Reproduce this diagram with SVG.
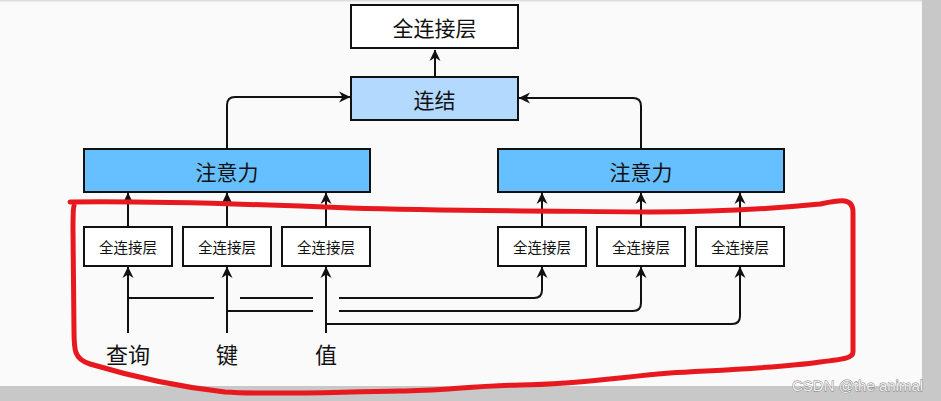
<svg xmlns="http://www.w3.org/2000/svg" width="941" height="401" viewBox="0 0 941 401">
<style>
.box{stroke:#111;stroke-width:2}
.t{font-family:"Noto Sans CJK SC","Noto Sans",sans-serif;fill:#111;text-anchor:middle;dominant-baseline:central}
.big{font-size:21px}
.small{font-size:14.5px}
.lab{font-size:22px}
.c{fill:none;stroke:#111;stroke-width:2}
.a{marker-end:url(#arr)}
</style>
<defs>
<marker id="arr" viewBox="-12 -7 13 14" refX="0" refY="0" markerWidth="13" markerHeight="14" markerUnits="userSpaceOnUse" orient="auto">
<path d="M0.5,0 L-11,-5.5 L-7.5,0 L-11,5.5 Z" fill="#111"/>
</marker>
</defs>
<rect x="0" y="0" width="941" height="401" fill="#fafafa"/>
<rect x="0" y="0" width="941" height="1.5" fill="#dcdcdc"/>
<rect x="922" y="0" width="19" height="401" fill="#c8c8c8"/>
<rect x="0" y="386" width="941" height="15" fill="#c8c8c8"/>

<g id="connectors">
<path class="c a" d="M435,77 V50"/>
<path class="c a" d="M227,149 V105 Q227,97 235,97 H350"/>
<path class="c a" d="M641,149 V106 Q641,98 633,98 H519"/>
<path class="c a" d="M128,227 V193"/>
<path class="c a" d="M227,227 V193"/>
<path class="c a" d="M326,227 V193"/>
<path class="c a" d="M542,227 V193"/>
<path class="c a" d="M641,227 V193"/>
<path class="c a" d="M740,227 V193"/>
<path class="c a" d="M128,333 V267"/>
<path class="c a" d="M227,333 V267"/>
<path class="c a" d="M326,333 V267"/>
<path class="c" d="M128,298 H214 M240,298 H313"/>
<path class="c a" d="M339,298 H534 Q542,298 542,290 V267"/>
<path class="c" d="M227,311 H313"/>
<path class="c a" d="M339,311 H633 Q641,311 641,303 V267"/>
<path class="c a" d="M326,324 H732 Q740,324 740,316 V267"/>
</g>

<g id="fc-top"><rect class="box" x="351" y="5" width="167" height="43" fill="#ffffff"/><text class="t big" x="434.5" y="27">全连接层</text></g>
<g id="concat"><rect class="box" x="351" y="77" width="167" height="43" fill="#b3d9ff"/><text class="t big" x="434.5" y="99">连结</text></g>
<g id="attn-left"><rect class="box" x="84" y="149" width="286" height="43" fill="#66bfff"/><text class="t big" x="227" y="171">注意力</text></g>
<g id="attn-right"><rect class="box" x="498" y="149" width="286" height="43" fill="#66bfff"/><text class="t big" x="641" y="171">注意力</text></g>

<g id="fc1"><rect class="box" x="84" y="227" width="88" height="39" fill="#ffffff"/><text class="t small" x="128" y="246.5">全连接层</text></g>
<g id="fc2"><rect class="box" x="183" y="227" width="88" height="39" fill="#ffffff"/><text class="t small" x="227" y="246.5">全连接层</text></g>
<g id="fc3"><rect class="box" x="282" y="227" width="88" height="39" fill="#ffffff"/><text class="t small" x="326" y="246.5">全连接层</text></g>
<g id="fc4"><rect class="box" x="498" y="227" width="88" height="39" fill="#ffffff"/><text class="t small" x="542" y="246.5">全连接层</text></g>
<g id="fc5"><rect class="box" x="597" y="227" width="88" height="39" fill="#ffffff"/><text class="t small" x="641" y="246.5">全连接层</text></g>
<g id="fc6"><rect class="box" x="696" y="227" width="88" height="39" fill="#ffffff"/><text class="t small" x="740" y="246.5">全连接层</text></g>

<g id="query"><text class="t lab" x="128" y="353">查询</text></g>
<g id="key"><text class="t lab" x="227" y="353">键</text></g>
<g id="value"><text class="t lab" x="326" y="353">值</text></g>

<path d="M70,202 C150,201 250,204 350,208 C450,211 550,211 650,212 C720,212 780,208 820,204 C840,200 853,197 853,212 L853,352 C853,358 845,359 820,362 C780,368 720,370 670,373 C620,377 580,384 520,385 C470,386 440,391 400,391 C330,392 270,395 225,392 C180,387 130,376 90,364 C74,359 74,350 74,330 L73,230 C73,215 73,208 74,206" fill="none" stroke="#e8191e" stroke-width="5" stroke-linecap="round" stroke-linejoin="round"/>

<text x="792" y="391" font-family="Liberation Sans, Arial, sans-serif" font-size="15" fill="#f0f0f0" stroke="#7a7a7a" stroke-width="0.8" paint-order="stroke">CSDN @the animal</text>
</svg>
